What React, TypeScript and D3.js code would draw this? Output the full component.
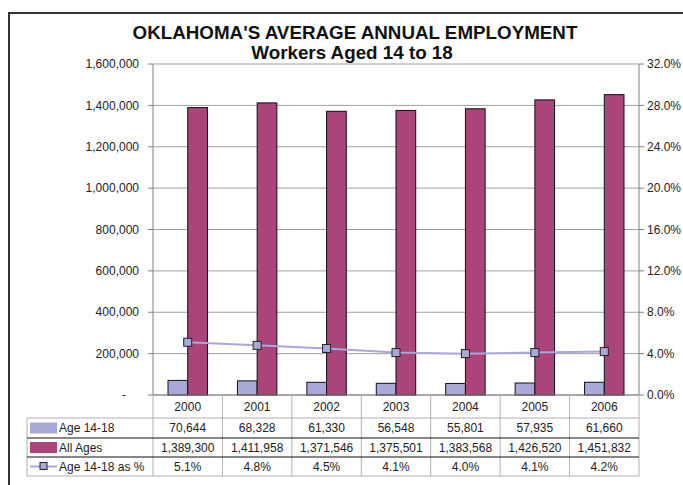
import React from "react";
import * as d3 from "d3";

const years = ["2000", "2001", "2002", "2003", "2004", "2005", "2006"];
const age1418 = [70644, 68328, 61330, 56548, 55801, 57935, 61660];
const allAges = [1389300, 1411958, 1371546, 1375501, 1383568, 1426520, 1451832];
const pctLabels = ["5.1%", "4.8%", "4.5%", "4.1%", "4.0%", "4.1%", "4.2%"];
const pctValues = [0.051, 0.048, 0.045, 0.041, 0.04, 0.041, 0.042];
const leftTicks = [0, 200000, 400000, 600000, 800000, 1000000, 1200000, 1400000, 1600000];
const rightTicks = [0, 0.04, 0.08, 0.12, 0.16, 0.2, 0.24, 0.28, 0.32];
const seriesNames = ["Age 14-18", "All Ages", "Age 14-18 as %"];

const W = 683, H = 485;
const PL = 153, PR = 639, PT = 64, PB = 395;
const FONT = "'Liberation Sans', Arial, sans-serif";
const C_LAV = "#a9a9d9";
const C_MAG = "#aa4479";
const C_LINE = "#a8a8dc";
const FS = 12;

export default function App() {
  const x = d3.scaleBand<string>().domain(years).range([PL, PR]);
  const yL = d3.scaleLinear().domain([0, 1600000]).range([PB, PT]);
  const yR = d3.scaleLinear().domain([0, 0.32]).range([PB, PT]);
  const bw = x.bandwidth();
  const barW = bw * 0.284;
  const fmtL = d3.format(",");
  const fmtR = d3.format(".1%");
  const cx = (y: string) => (x(y) as number) + bw / 2;
  const line = d3
    .line<number>()
    .x((_, i) => cx(years[i]))
    .y((d) => yR(d));

  const rowTops = [395, 418, 438, 457, 476];
  const rowMid = (i: number) => (rowTops[i] + rowTops[i + 1]) / 2;
  const tableLeft = 27;

  return (
    <svg width={W} height={H} style={{ position: "absolute", left: 0, top: 0 }} fontFamily={FONT}>
      <rect x={0} y={0} width={W} height={H} fill="#fff" />
      {/* frame */}
      <line x1={9} y1={13} x2={W} y2={13} stroke="#333" strokeWidth={2} />
      <line x1={9} y1={12} x2={9} y2={H} stroke="#333" strokeWidth={2} />

      {/* title */}
      <text x={355} y={38.5} textAnchor="middle" fontSize={18.8} fontWeight="bold" fill="#111">
        OKLAHOMA'S AVERAGE ANNUAL EMPLOYMENT
      </text>
      <text x={352} y={58.5} textAnchor="middle" fontSize={18.8} fontWeight="bold" fill="#111">
        Workers Aged 14 to 18
      </text>

      {/* gridlines */}
      {leftTicks.map((t) => (
        <line key={"g" + t} x1={PL} x2={PR} y1={yL(t)} y2={yL(t)} stroke="#a0a0a0" strokeWidth={1} />
      ))}
      {/* axes */}
      <line x1={PL} x2={PL} y1={PT} y2={PB} stroke="#808080" />
      <line x1={PR} x2={PR} y1={PT} y2={PB} stroke="#808080" />
      {leftTicks.map((t) => (
        <g key={"l" + t}>
          <line x1={PL - 5} x2={PL} y1={yL(t)} y2={yL(t)} stroke="#808080" />
          <text
            x={t === 0 ? 126 : 139}
            y={yL(t)}
            dy="0.35em"
            textAnchor="end"
            fontSize={FS}
            fill="#222"
          >
            {t === 0 ? "-" : fmtL(t)}
          </text>
        </g>
      ))}
      {rightTicks.map((t) => (
        <g key={"r" + t}>
          <line x1={PR} x2={PR + 5} y1={yR(t)} y2={yR(t)} stroke="#808080" />
          <text x={647} y={yR(t)} dy="0.35em" textAnchor="start" fontSize={FS} fill="#222">
            {fmtR(t)}
          </text>
        </g>
      ))}

      {/* bars */}
      {years.map((yr, i) => (
        <g key={"b" + yr}>
          <rect
            x={cx(yr) - barW}
            y={yL(age1418[i])}
            width={barW}
            height={PB - yL(age1418[i])}
            fill={C_LAV}
            stroke="#111"
            strokeWidth={1}
          />
          <rect
            x={cx(yr)}
            y={yL(allAges[i])}
            width={barW}
            height={PB - yL(allAges[i])}
            fill={C_MAG}
            stroke="#111"
            strokeWidth={1}
          />
        </g>
      ))}
      <line x1={PL} x2={PR} y1={PB} y2={PB} stroke="#808080" />

      {/* percent line */}
      <path d={line(pctValues) || ""} fill="none" stroke={C_LINE} strokeWidth={2} />
      {pctValues.map((v, i) => (
        <rect
          key={"m" + i}
          x={cx(years[i]) - 4}
          y={yR(v) - 4}
          width={8}
          height={8}
          fill={C_LAV}
          stroke="#222"
          strokeWidth={1}
        />
      ))}

      {/* data table */}
      {years.map((yr) => (
        <line
          key={"v" + yr}
          x1={x(yr) as number}
          x2={x(yr) as number}
          y1={PB}
          y2={rowTops[4]}
          stroke="#b0b0b0"
        />
      ))}
      <line x1={PR} x2={PR} y1={PB} y2={rowTops[4]} stroke="#b0b0b0" />
      <line x1={tableLeft} x2={tableLeft} y1={rowTops[1]} y2={rowTops[4]} stroke="#b0b0b0" />
      <line x1={tableLeft} x2={PR} y1={rowTops[1]} y2={rowTops[1]} stroke="#b0b0b0" />
      <line x1={tableLeft} x2={PR} y1={rowTops[2]} y2={rowTops[2]} stroke="#111" />
      <line x1={tableLeft} x2={PR} y1={rowTops[3]} y2={rowTops[3]} stroke="#111" />
      <line x1={tableLeft} x2={PR} y1={rowTops[4]} y2={rowTops[4]} stroke="#b0b0b0" />

      {years.map((yr, i) => (
        <g key={"t" + yr} fontSize={FS} fill="#222" textAnchor="middle">
          <text x={cx(yr)} y={rowMid(0)} dy="0.35em">{yr}</text>
          <text x={cx(yr)} y={rowMid(1)} dy="0.35em">{fmtL(age1418[i])}</text>
          <text x={cx(yr)} y={rowMid(2)} dy="0.35em">{fmtL(allAges[i])}</text>
          <text x={cx(yr)} y={rowMid(3)} dy="0.35em">{pctLabels[i]}</text>
        </g>
      ))}

      {/* legend keys */}
      <rect x={30} y={rowMid(1) - 5.5} width={27} height={11} fill={C_LAV} />
      <rect x={30} y={rowMid(2) - 5.5} width={27} height={11} fill={C_MAG} />
      <line x1={30} x2={57} y1={rowMid(3)} y2={rowMid(3)} stroke={C_LINE} strokeWidth={2} />
      <rect x={40} y={rowMid(3) - 4} width={7} height={7} fill={C_LAV} stroke="#222" />
      {seriesNames.map((s, i) => (
        <text key={s} x={59} y={rowMid(i + 1)} dy="0.35em" fontSize={FS} fill="#222">
          {s}
        </text>
      ))}
    </svg>
  );
}
